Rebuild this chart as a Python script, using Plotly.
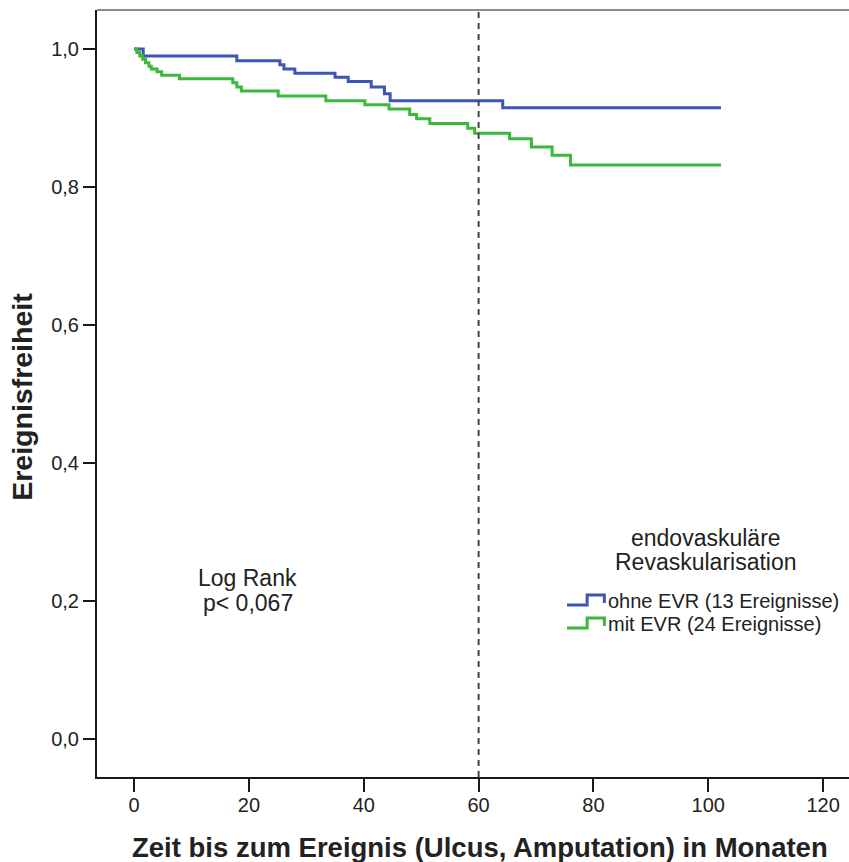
"""Kaplan-Meier: Ereignisfreiheit ohne/mit endovaskulärer Revaskularisation (plotly)."""

import plotly.graph_objects as go

# ohne EVR (13 Ereignisse)
t_ohne = [0, 1.6, 17.9, 25.4, 26.1, 28.0, 35.0, 37.3, 41.3, 43.6, 44.6, 64.2, 102.2]
s_ohne = [1.0, 0.990, 0.983, 0.977, 0.971, 0.965, 0.959, 0.953, 0.945, 0.935, 0.925,
          0.915, 0.915]

# mit EVR (24 Ereignisse)
t_mit = [0, 0.5, 1.0, 1.5, 2.0, 2.6, 3.0, 4.0, 4.8, 7.9, 17.2, 17.9, 18.7, 25.1, 33.4,
         40.2, 44.4, 48.0, 49.2, 51.5, 58.1, 59.3, 65.4, 69.2, 72.8, 76.0, 102.2]
s_mit = [1.0, 0.995, 0.990, 0.985, 0.980, 0.975, 0.971, 0.967, 0.962, 0.957, 0.951,
         0.945, 0.939, 0.932, 0.925, 0.919, 0.913, 0.905, 0.899, 0.892, 0.885, 0.878,
         0.870, 0.858, 0.846, 0.832, 0.832]

group_names = ["ohne EVR (13 Ereignisse)", "mit EVR (24 Ereignisse)"]
group_colors = ["#3d55b5", "#3cb83c"]
x_ticks = [0, 20, 40, 60, 80, 100, 120]
y_ticks = [0.0, 0.2, 0.4, 0.6, 0.8, 1.0]
cutoff = 60

FONT = "Liberation Sans, Arial, sans-serif"
TXT = "#222222"

fig = go.Figure()
for t, s, name, col in [(t_ohne, s_ohne, group_names[0], group_colors[0]),
                        (t_mit, s_mit, group_names[1], group_colors[1])]:
    fig.add_trace(go.Scatter(x=t, y=s, mode="lines", name=name,
                             line=dict(color=col, width=3, shape="hv"),
                             showlegend=False))

# 60-Monats-Linie
fig.add_shape(type="line", x0=cutoff, x1=cutoff, y0=0, y1=1, xref="x", yref="paper",
              line=dict(color="#444444", width=2, dash="6px,5px"))
# graue obere Rahmenlinie
fig.add_shape(type="line", x0=0, x1=1, y0=1, y1=1, xref="paper", yref="paper",
              line=dict(color="#8c8c8c", width=2))

# Legende (manuell, mit Stufen-Symbol)
leg_y = [0.1942, 0.1609]
for i, (name, col) in enumerate(zip(group_names, group_colors)):
    y0 = leg_y[i]
    fig.add_shape(type="path", xref="x", yref="y",
                  path=f"M 75.4,{y0} H 78.9 V {y0 + 0.0145} H 81.9 V {y0 + 0.003}",
                  line=dict(color=col, width=3))
    fig.add_annotation(x=82.2, y=y0 + 0.006, xref="x", yref="y", text=name,
                       showarrow=False, xanchor="left", yanchor="middle",
                       font=dict(family=FONT, size=20, color=TXT))
for txt, yy in [("endovaskuläre", 0.291), ("Revaskularisation", 0.257)]:
    fig.add_annotation(x=99.6, y=yy, xref="x", yref="y", text=txt, showarrow=False,
                       xanchor="center", yanchor="middle",
                       font=dict(family=FONT, size=23, color=TXT))

# Log-Rank-Text
for txt, yy in [("Log Rank", 0.233), ("p< 0,067", 0.197)]:
    fig.add_annotation(x=19.8, y=yy, xref="x", yref="y", text=txt, showarrow=False,
                       xanchor="center", yanchor="middle",
                       font=dict(family=FONT, size=23, color=TXT))

# Achsentitel (paper-Koordinaten, da ausserhalb des Achsenbereichs)
fig.add_annotation(x=0.509, y=-0.0913, xref="paper", yref="paper",
                   text="<b>Zeit bis zum Ereignis (Ulcus, Amputation) in Monaten</b>",
                   showarrow=False, xanchor="center", yanchor="middle",
                   font=dict(family=FONT, size=27.5, color=TXT))
fig.add_annotation(x=-0.0997, y=0.496, xref="paper", yref="y", text="<b>Ereignisfreiheit</b>",
                   textangle=-90, showarrow=False, xanchor="center", yanchor="middle",
                   font=dict(family=FONT, size=28.5, color=TXT))

fig.update_layout(
    width=849, height=862,
    margin=dict(l=97, r=0, t=10, b=85),
    plot_bgcolor="white", paper_bgcolor="white",
    separators=", ",
    font=dict(family=FONT, size=20, color=TXT),
    xaxis=dict(range=[-6.45, 124.5], tickvals=x_ticks, showgrid=False, zeroline=False,
               showline=True, linecolor="#1a1a1a", linewidth=2,
               ticks="outside", ticklen=13, tickwidth=2, tickcolor="#1a1a1a",
               ticklabelstandoff=-4,
               tickfont=dict(family=FONT, size=20, color=TXT)),
    yaxis=dict(range=[-0.0551, 1.0565], tickvals=y_ticks, tickformat=".1f",
               showgrid=False, zeroline=False,
               showline=True, linecolor="#1a1a1a", linewidth=2,
               ticks="outside", ticklen=12, tickwidth=2, tickcolor="#1a1a1a",
               tickfont=dict(family=FONT, size=20, color=TXT)),
)

# Seitenrand entfernen, damit die Grafik genau ins Fenster passt
fig.write_html("out.html", config={"displayModeBar": False},
               post_script="document.body.style.margin='0px';"
                           "document.body.style.overflow='hidden';")
